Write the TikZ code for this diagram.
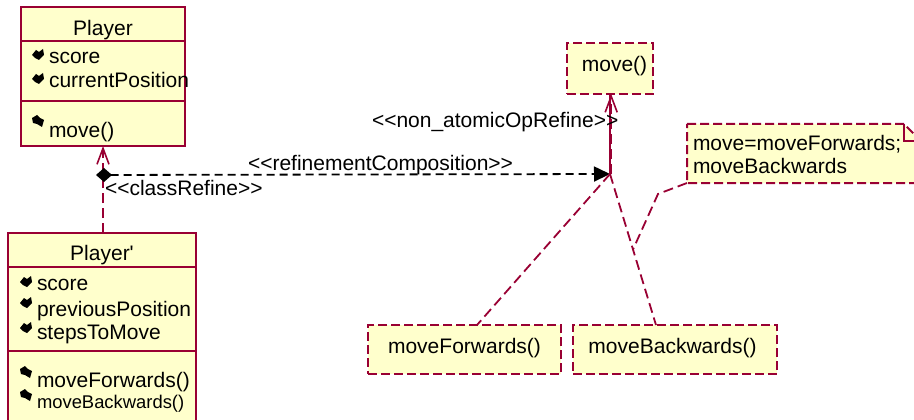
\documentclass[tikz,border=0pt]{standalone}
\usepackage{fontspec}
\newfontfamily\rosefont{Liberation Sans}
\usetikzlibrary{arrows.meta,calc}
\definecolor{rosered}{RGB}{153,0,51}
\definecolor{rosefill}{RGB}{255,255,204}

\tikzset{
  classbox/.style={draw=rosered, fill=rosefill, line width=2pt, inner sep=0pt, outer sep=0pt},
  opbox/.style={classbox, dash pattern=on 9pt off 4pt},
  sepline/.style={draw=rosered, line width=2pt},
  txt/.style={inner sep=0pt, outer sep=0pt, anchor=base west, font=\rosefont\fontsize{21}{25}\selectfont},
  smalltxt/.style={txt, font=\rosefont\fontsize{18.4}{22}\selectfont},
  ctxt/.style={txt, anchor=base},
  depline/.style={draw=rosered, line width=1.8pt, dash pattern=on 10pt off 5pt},
  openhead/.style={-{Straight Barb[length=16pt,width=12pt,line width=1.6pt]}},
  compline/.style={draw=black, line width=1.8pt, dash pattern=on 8pt off 5pt},
  % public attribute / operation markers
  attric/.pic={\fill[black] (0,6) -- (4,1) -- (7,3) -- (11,0) -- (12,6) -- (7,11) -- (3,9) -- cycle;},
  opic/.pic={\fill[black] (0,3) -- (5,0) -- (8,3) -- (12,5) -- (10,12) -- (5,9) -- (1,8) -- cycle;}
}

\begin{document}
\begin{tikzpicture}[x=1pt,y=-1pt]
\useasboundingbox (0,0) rectangle (914,420);
\clip (0,0) rectangle (914,420);

% ---- class Player ----
\node[classbox, minimum width=164pt, minimum height=139pt] (player) at (103,76.5) {};
\draw[sepline] (21,41) -- (185,41);
\draw[sepline] (21,101) -- (185,101);
\node[ctxt] (playerT) at (103,36) {Player};
\pic at (32,49) {attric};
\node[txt] (pa1) at (49,64) {score};
\pic at (32,73) {attric};
\node[txt] (pa2) at (49,88) {currentPosition};
\pic at (32,115) {opic};
\node[txt] (po1) at (49,138) {move()};

% ---- class Player' ----
\node[classbox, minimum width=188pt, minimum height=197pt] (playerp) at (102,331.5) {};
\draw[sepline] (8,267) -- (196,267);
\draw[sepline] (8,351) -- (196,351);
\node[ctxt] (playerpT) at (102,260) {Player'};
\pic at (20,276) {attric};
\node[txt] (ppa1) at (37,290) {score};
\pic at (20,297) {attric};
\node[txt] (ppa2) at (37,316) {previousPosition};
\pic at (20,322) {attric};
\node[txt] (ppa3) at (37,339) {stepsToMove};
\pic at (20,366) {opic};
\node[txt] (ppo1) at (37,387) {moveForwards()};
\pic at (20,389) {opic};
\node[smalltxt] (ppo2) at (37,408) {moveBackwards()};

% ---- operations ----
\node[opbox, minimum width=86pt, minimum height=51pt] (move) at (610,68.5) {};
\node[ctxt] (moveT) at (614.5,72) {move()};
\node[opbox, minimum width=193pt, minimum height=49pt] (mf) at (464.5,349.5) {};
\node[ctxt] (mfT) at (464.5,353) {moveForwards()};
\node[opbox, minimum width=204pt, minimum height=49pt] (mb) at (675,349.5) {};
\node[ctxt] (mbT) at (672.5,353) {moveBackwards()};

% ---- note ----
\node[inner sep=0pt, outer sep=0pt, minimum width=234pt, minimum height=59pt] (note) at (804,153.5) {};
\filldraw[fill=rosefill, draw=rosered, line width=2pt, dash pattern=on 9pt off 4pt]
  (note.north west) -- ([xshift=-17pt]note.north east) -- ([yshift=-17pt]note.north east)
  -- (note.south east) -- (note.south west) -- cycle;
\draw[draw=rosered, line width=2pt]
  ([xshift=-17pt]note.north east) -- ([xshift=-17pt,yshift=-17pt]note.north east) -- ([yshift=-17pt]note.north east);
\node[txt] (noteL1) at (693,150) {move=moveForwards;};
\node[txt] (noteL2) at (693,173) {moveBackwards};

% ---- connectors ----
\coordinate (diamL) at (96,175);
\coordinate (hubR) at (610,174);
\coordinate (mfTop) at ([xshift=12.5pt]mf.north);
\coordinate (mbTop) at ([xshift=-19pt]mb.north);
\coordinate (noteBend) at (658,194);

\draw[depline, openhead] ([xshift=1pt]playerp.north) -- (player.south);
\draw[compline, {Diamond[length=16pt,width=14pt]}-{Triangle[length=16pt,width=15pt]}] (diamL) -- (hubR);
\draw[draw=rosered, line width=1.6pt] (hubR) -- (move.south);
\draw[depline, openhead] ([xshift=1.2pt]hubR) -- ([xshift=1.2pt]move.south);
\draw[depline] (hubR) -- (mfTop);
\draw[depline] (hubR) -- (mbTop);
\draw[depline] (note.south west) -- (noteBend) -- ($(hubR)!0.5!(mbTop)$);

% ---- stereotype labels ----
\node[txt] (lblClass) at (105,195) {<<classRefine>>};
\node[txt] (lblComp) at (248,170) {<<refinementComposition>>};
\node[txt] (lblOp) at (372,128) {<<non\_atomicOpRefine>>};
\end{tikzpicture}
\end{document}
